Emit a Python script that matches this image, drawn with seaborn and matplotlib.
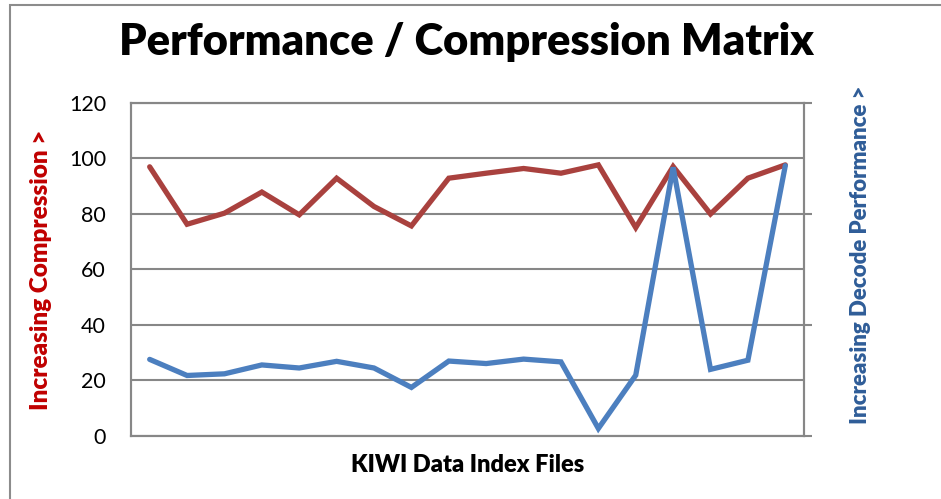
import numpy as np
import pandas as pd
import seaborn as sns
import matplotlib.pyplot as plt
from matplotlib.patches import Rectangle

# values
file_index = list(range(1, 19))
compression = [97, 76.3, 80.3, 87.9, 79.7, 92.9, 82.7, 75.7, 92.9,
               94.7, 96.4, 94.7, 97.7, 75.1, 97.1, 80.0, 92.9, 97.7]
decode_perf = [27.6, 21.8, 22.4, 25.6, 24.5, 26.9, 24.5, 17.5, 27.0,
               26.1, 27.7, 26.7, 2.7, 21.9, 96.8, 24.0, 27.3, 97.4]
left_ticks = [0, 20, 40, 60, 80, 100, 120]
right_ticks = [0, 40, 80, 120]

df = pd.DataFrame({'file': file_index, 'compression': compression, 'decode': decode_perf})

sns.set_style('white')
plt.rcParams['font.family'] = ['Lato', 'DejaVu Sans']

grid_col = '#878787'
red = '#A9413E'
blue = '#4C7FBF'

fig = plt.figure(figsize=(9.41, 4.99), dpi=100)
ax = fig.add_axes([0.1392, 0.1263, 0.7152, 0.6673])

sns.lineplot(data=df, x='file', y='compression', ax=ax, color=red, lw=3.8,
             solid_capstyle='round', solid_joinstyle='miter')
ax.set_xlim(0.5, 18.5)
ax.set_ylim(0, 120)
ax.set_yticks(left_ticks)
ax.set_yticklabels([str(t) for t in left_ticks], fontsize=15.5, color='black')
ax.set_xticks([])
ax.tick_params(axis='y', length=0, pad=18)
ax.yaxis.grid(True, color=grid_col, lw=1.5)
ax.set_axisbelow(True)
for s in ax.spines.values():
    s.set_color(grid_col)
    s.set_linewidth(1.5)
ax.set_xlabel('KIWI Data Index Files', fontsize=17, fontweight='heavy',
              color='black', labelpad=13)
ax.set_ylabel('Increasing Compression >', fontsize=17.5, fontweight='heavy',
              color='#C00000')
ax.yaxis.set_label_coords(-0.117, 0.5)

ax2 = ax.twinx()
sns.lineplot(data=df, x='file', y='decode', ax=ax2, color=blue, lw=3.8,
             solid_capstyle='round', solid_joinstyle='miter')
ax2.set_ylim(0, 120)
ax2.set_yticks(right_ticks)
ax2.set_yticklabels([])
ax2.tick_params(axis='y', length=6, width=1.5, color=grid_col, direction='out')
ax2.set_ylabel('Increasing Decode Performance >', fontsize=16, fontweight='heavy',
               color='#2F5D98')
ax2.yaxis.set_label_coords(1.069, 0.544)
for s in ax2.spines.values():
    s.set_color(grid_col)
    s.set_linewidth(1.5)

fig.suptitle('Performance / Compression Matrix', fontsize=31.3, fontweight='heavy',
             color='black', x=0.4955, y=0.955)

# outer chart border
fig.patches.append(Rectangle((10 / 941, -0.05), 1.2, (494 / 499) + 0.05,
                             transform=fig.transFigure, fill=False,
                             edgecolor='#8c8c8c', lw=1.5))

fig.savefig('out.png', dpi=100)
